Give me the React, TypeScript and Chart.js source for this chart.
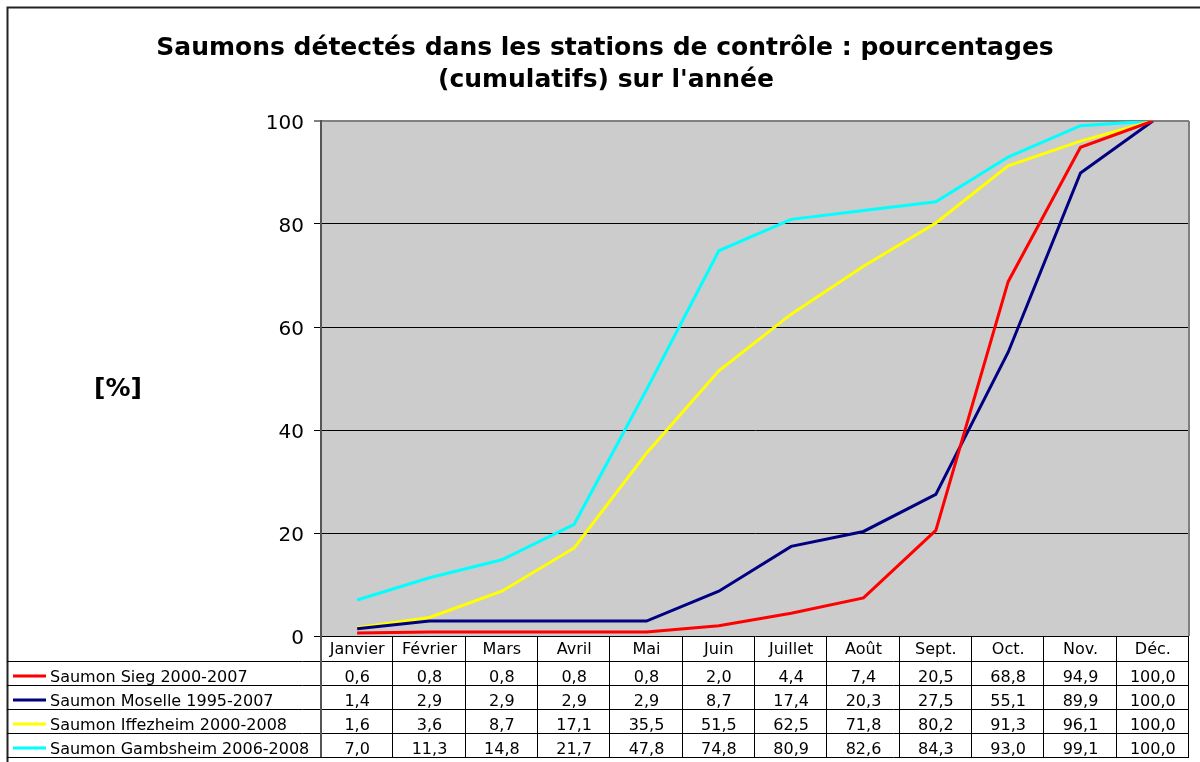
import React, { useEffect, useRef } from "react";
import { Chart, registerables } from "chart.js";
Chart.register(...registerables);

const months = ["Janvier", "Février", "Mars", "Avril", "Mai", "Juin", "Juillet", "Août", "Sept.", "Oct.", "Nov.", "Déc."];
const sieg = [0.6, 0.8, 0.8, 0.8, 0.8, 2.0, 4.4, 7.4, 20.5, 68.8, 94.9, 100.0];
const moselle = [1.4, 2.9, 2.9, 2.9, 2.9, 8.7, 17.4, 20.3, 27.5, 55.1, 89.9, 100.0];
const iffezheim = [1.6, 3.6, 8.7, 17.1, 35.5, 51.5, 62.5, 71.8, 80.2, 91.3, 96.1, 100.0];
const gambsheim = [7.0, 11.3, 14.8, 21.7, 47.8, 74.8, 80.9, 82.6, 84.3, 93.0, 99.1, 100.0];
const seriesNames = ["Saumon Sieg 2000-2007", "Saumon Moselle 1995-2007", "Saumon Iffezheim 2000-2008", "Saumon Gambsheim 2006-2008"];
const seriesColors = ["#FF0000", "#000080", "#FFFF00", "#00FFFF"];
const titleLines = ["Saumons détectés dans les stations de contrôle : pourcentages", "(cumulatifs) sur l'année"];
const yAxisLabel = "[%]";
const yMin = 0;
const yMax = 100;
const yStep = 20;

const FONT = "'DejaVu Sans', Verdana, sans-serif";

const fmt = (v: number) => v.toFixed(1).replace(".", ",");

const decorPlugin = {
  id: "decor",
  beforeDraw(chart: any) {
    const { ctx, chartArea, width, height } = chart;
    ctx.save();
    ctx.fillStyle = "#FFFFFF";
    ctx.fillRect(0, 0, width, height);
    ctx.fillStyle = "#CCCCCC";
    ctx.fillRect(chartArea.left, chartArea.top, chartArea.right - chartArea.left, chartArea.bottom - chartArea.top);
    ctx.restore();
  },
  afterDraw(chart: any) {
    const { ctx, chartArea } = chart;
    const L = chartArea.left;
    const R = chartArea.right;
    const xs = chart.scales.x;
    const allSeries = [sieg, moselle, iffezheim, gambsheim];
    ctx.save();

    // plot right border
    ctx.strokeStyle = "#808080";
    ctx.lineWidth = 2;
    ctx.beginPath();
    ctx.moveTo(R, chartArea.top);
    ctx.lineTo(R, chartArea.bottom);
    ctx.stroke();

    // outer frame
    ctx.strokeStyle = "#222222";
    ctx.lineWidth = 2;
    ctx.beginPath();
    ctx.moveTo(7.5, 762);
    ctx.lineTo(7.5, 7.5);
    ctx.lineTo(1200, 7.5);
    ctx.stroke();

    // title
    ctx.fillStyle = "#000000";
    ctx.textAlign = "center";
    ctx.textBaseline = "alphabetic";
    ctx.font = `bold 25px ${FONT}`;
    ctx.fillText(titleLines[0], 605, 55);
    ctx.fillText(titleLines[1], 606, 87);

    // y axis label
    ctx.font = `bold 25px ${FONT}`;
    ctx.textBaseline = "middle";
    ctx.fillText(yAxisLabel, 118, 389);

    // data table
    const tableTop = xs.bottom;
    const tableBottom = 757;
    const rowH = (tableBottom - tableTop) / allSeries.length;
    const colW = (R - L) / months.length;

    ctx.strokeStyle = "#000000";
    ctx.lineWidth = 1;
    for (let r = 0; r <= allSeries.length; r++) {
      const y = Math.round(tableTop + r * rowH) + 0.5;
      ctx.beginPath();
      ctx.moveTo(7, y);
      ctx.lineTo(R, y);
      ctx.stroke();
    }
    for (let c = 1; c <= months.length; c++) {
      const x = Math.round(L + c * colW) - 0.5;
      ctx.beginPath();
      ctx.moveTo(x, chartArea.bottom);
      ctx.lineTo(x, tableBottom);
      ctx.stroke();
    }
    ctx.strokeStyle = "#555555";
    ctx.lineWidth = 2;
    ctx.beginPath();
    ctx.moveTo(L, chartArea.bottom);
    ctx.lineTo(L, tableBottom);
    ctx.stroke();

    ctx.font = `16px ${FONT}`;
    ctx.textBaseline = "alphabetic";
    allSeries.forEach((vals, r) => {
      const rowBottom = tableTop + (r + 1) * rowH;
      const base = rowBottom - 3.5;
      const mid = rowBottom - 9;
      ctx.strokeStyle = seriesColors[r];
      ctx.lineWidth = 3;
      ctx.beginPath();
      ctx.moveTo(13, mid);
      ctx.lineTo(46, mid);
      ctx.stroke();
      ctx.fillStyle = "#000000";
      ctx.textAlign = "left";
      ctx.fillText(seriesNames[r], 50, base);
      ctx.textAlign = "center";
      vals.forEach((v, c) => {
        ctx.fillText(fmt(v), L + (c + 0.5) * colW, base);
      });
    });

    ctx.restore();
  },
};

export default function App() {
  const ref = useRef<HTMLCanvasElement | null>(null);
  useEffect(() => {
    document.body.style.margin = "0";
    const canvas = ref.current;
    if (!canvas) return;
    const allSeries = [sieg, moselle, iffezheim, gambsheim];
    const chart = new Chart(canvas, {
      type: "line",
      data: {
        labels: months,
        datasets: allSeries.map((vals, i) => ({
          label: seriesNames[i],
          data: vals,
          borderColor: seriesColors[i],
          backgroundColor: seriesColors[i],
          borderWidth: 3,
          pointRadius: 0,
          tension: 0,
          fill: false,
        })),
      },
      options: {
        responsive: false,
        animation: false,
        devicePixelRatio: 1,
        layout: { padding: { left: 0, right: 11, top: 121, bottom: 101 } },
        plugins: {
          legend: { display: false },
          title: { display: false },
          tooltip: { enabled: false },
        },
        scales: {
          x: {
            type: "category",
            offset: true,
            grid: { display: false, drawTicks: false },
            border: { display: false },
            ticks: {
              color: "#000000",
              font: { family: FONT, size: 16 },
              padding: 4,
              maxRotation: 0,
              autoSkip: false,
            },
            afterFit: (s: any) => {
              s.height = 25;
            },
          },
          y: {
            min: yMin,
            max: yMax,
            grid: {
              color: (c: any) => (c.tick && c.tick.value === yMax ? "#808080" : "#000000"),
              lineWidth: (c: any) => (c.tick && c.tick.value === yMax ? 2 : 1),
              tickLength: 7,
              drawTicks: true,
            },
            border: { display: true, color: "#555555", width: 2 },
            ticks: {
              stepSize: yStep,
              color: "#000000",
              font: { family: FONT, size: 20 },
              padding: 10,
              labelOffset: 3,
            },
            afterFit: (s: any) => {
              s.width = 321;
            },
          },
        },
      },
      plugins: [decorPlugin],
    });
    return () => chart.destroy();
  }, []);
  return (
    <div style={{ position: "absolute", left: 0, top: 0, width: 1200, height: 762 }}>
      <canvas ref={ref} width={1200} height={762} style={{ width: 1200, height: 762, display: "block" }} />
    </div>
  );
}
